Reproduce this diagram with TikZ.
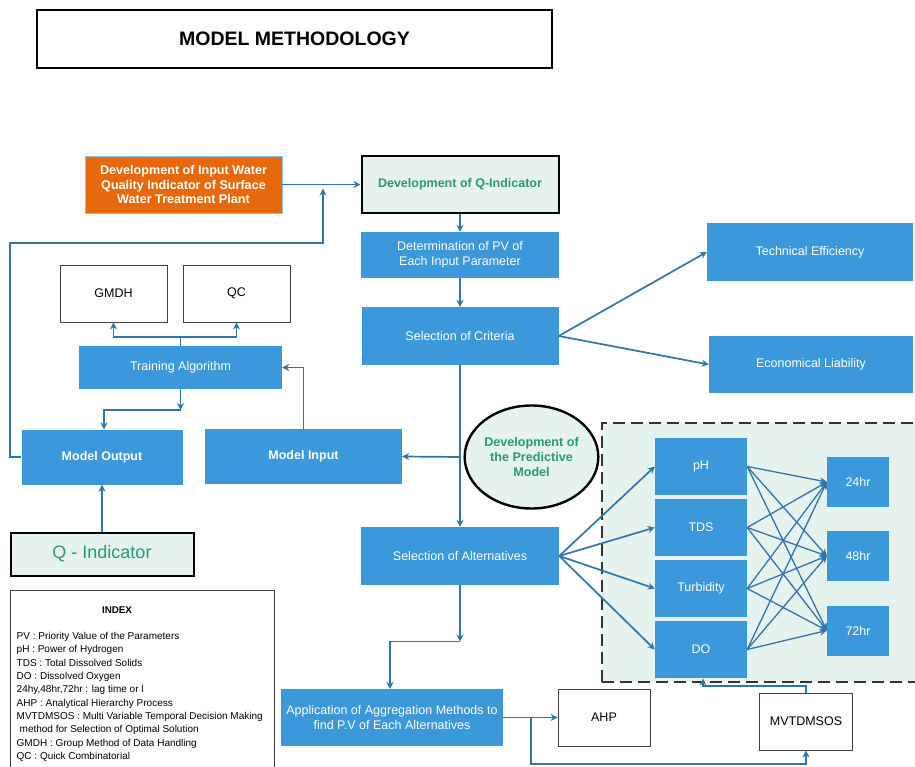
\documentclass[tikz,border=0pt]{standalone}
\usepackage{fontspec}
\setmainfont{Liberation Sans}
\usetikzlibrary{arrows.meta,shapes.geometric,calc}
\definecolor{boxblue}{HTML}{3A98DB}
\definecolor{arrowblue}{HTML}{3274AC}
\definecolor{mint}{HTML}{E6F2EE}
\definecolor{tealtext}{HTML}{2A9878}
\definecolor{orangefill}{HTML}{E8690B}
\begin{document}
\begin{tikzpicture}[x=1pt,y=-1pt,
  bluebox/.style={fill=boxblue, text=white, font=\fontsize{12.5}{15}\selectfont, align=center, inner sep=0pt},
  whitebox/.style={draw=black!75, line width=0.9pt, fill=white, font=\fontsize{12.5}{14}\selectfont, align=center, inner sep=0pt},
  mintbox/.style={draw=black, line width=2pt, fill=mint, text=tealtext, align=center, inner sep=0pt},
  conn/.style={draw=arrowblue, line width=1.7pt, -{Stealth[length=7pt,width=7pt]}},
  plain/.style={draw=arrowblue, line width=1.7pt}]
\useasboundingbox (0,0) rectangle (915,767);
\fill[white] (0,0) rectangle (915,767);

% title
\node[draw=black, line width=1.5pt, minimum width=515pt, minimum height=58pt, inner sep=0pt,
      font=\fontsize{19.5}{22}\selectfont\bfseries] (title) at (294.5,39) {MODEL METHODOLOGY};

% dashed region
\path[fill=mint] (602,423) rectangle (920,682);
\draw[black!80, line width=1.8pt, dash pattern=on 12pt off 6pt] (602,682) -- (602,423) -- (920,423);
\draw[black!80, line width=1.8pt, dash pattern=on 12pt off 6pt] (602,682) -- (920,682);

% top nodes
\node[fill=orangefill, draw=boxblue!60, line width=0.5pt, text=white, align=center, inner sep=0pt,
      minimum width=197pt, minimum height=57pt, font=\fontsize{12.6}{14.6}\selectfont\bfseries]
      (orange) at (183.5,184.5) {Development of Input Water\\Quality Indicator of Surface\\Water Treatment Plant};
\node[mintbox, minimum width=197pt, minimum height=57pt, font=\fontsize{12.5}{14}\selectfont\bfseries]
      (qdev) at (460,184.5) {Development of Q-Indicator};
\node[bluebox, minimum width=198pt, minimum height=46pt] (det) at (460,255) {Determination of PV of\\Each Input Parameter};
\node[bluebox, minimum width=197pt, minimum height=58pt] (crit) at (460,336) {Selection of Criteria};
\node[bluebox, minimum width=206pt, minimum height=58pt] (tech) at (810,252) {Technical Efficiency};
\node[bluebox, minimum width=204pt, minimum height=57pt] (econ) at (811,364.5) {Economical Liability};

% left cluster
\node[whitebox, minimum width=107pt, minimum height=57pt] (gmdh) at (113.5,293.5) {GMDH};
\node[whitebox, minimum width=107pt, minimum height=57pt] (qc) at (236.5,293.5) {QC};
\node[bluebox, minimum width=203pt, minimum height=43pt] (train) at (180.5,367.5) {Training Algorithm};
\node[bluebox, minimum width=161pt, minimum height=55pt, font=\fontsize{12.5}{14}\selectfont\bfseries] (mout) at (102,457) {Model Output};
\node[bluebox, minimum width=197pt, minimum height=55pt, font=\fontsize{12.5}{14}\selectfont\bfseries] (min) at (303.5,456.5) {Model Input};
\node[mintbox, minimum width=183pt, minimum height=43pt, font=\fontsize{18}{20}\selectfont] (qind) at (102,554) {Q - Indicator};

% predictive model
\node[ellipse, draw=black, line width=2.4pt, fill=mint, text=tealtext, align=center, inner sep=0pt,
      minimum width=128pt, minimum height=103pt, font=\fontsize{12.6}{14.8}\selectfont\bfseries]
      (pred) at (531.5,457) {Development of\\the Predictive\\Model};

\node[bluebox, minimum width=198pt, minimum height=58pt] (alt) at (460,556) {Selection of Alternatives};

\node[bluebox, minimum width=92pt, minimum height=57pt] (ph) at (701,466.5) {pH};
\node[bluebox, minimum width=92pt, minimum height=57pt] (tds) at (701,527.5) {TDS};
\node[bluebox, minimum width=92pt, minimum height=57pt] (turb) at (701,588.5) {Turbidity};
\node[bluebox, minimum width=92pt, minimum height=57pt] (do) at (701,649.5) {DO};

\node[bluebox, minimum width=62pt, minimum height=50pt] (h24) at (858,482) {24hr};
\node[bluebox, minimum width=62pt, minimum height=50pt] (h48) at (858,556) {48hr};
\node[bluebox, minimum width=62pt, minimum height=50pt] (h72) at (858,630.5) {72hr};

\node[bluebox, minimum width=222pt, minimum height=57pt] (app) at (392,717.5) {Application of Aggregation Methods to\\find P.V of Each Alternatives};
\node[whitebox, minimum width=92pt, minimum height=57pt] (ahp) at (604,717.5) {AHP};
\node[whitebox, minimum width=93pt, minimum height=57pt] (mvt) at (806,721.5) {MVTDMSOS};

% index
\draw[black!75, line width=0.9pt] (10,770) -- (10,590) -- (274,590) -- (274,770);
\node[font=\fontsize{9.8}{11}\selectfont\bfseries, inner sep=0pt] (indextitle) at (117,610) {INDEX};
\node[anchor=north west, align=left, inner sep=0pt, font=\fontsize{10}{13.35}\selectfont] (indextext) at (16.5,632)
 {PV : Priority Value of the Parameters\\
  pH : Power of Hydrogen\\
  TDS : Total Dissolved Solids\\
  DO : Dissolved Oxygen\\
  24hy,48hr,72hr : lag time or l\\
  AHP : Analytical Hierarchy Process\\
  MVTDMSOS : Multi Variable Temporal Decision Making\\
  \hspace{3pt}method for Selection of Optimal Solution\\
  GMDH : Group Method of Data Handling\\
  QC : Quick Combinatorial};

% connectors
\draw[conn] (orange.east) -- (qdev.west);
\draw[conn] (mout.west) -- (10,457) -- (10,243) -- (323,243) -- (323,188.5);
\draw[conn] (qdev.south) -- (det.north);
\draw[conn] (det.south) -- (crit.north);
\draw[conn] (crit.east) -- (tech.west);
\draw[conn] (crit.east) -- (econ.west);
\draw[conn] (crit.south) -- (alt.north);
\draw[conn] (460,457) -- (min.east);
\draw[conn] (min.north) -- (303.5,367.5) -- (train.east);
\draw[plain] (train.north) -- (180.5,337);
\draw[conn] (180.5,337) -| (gmdh.south);
\draw[conn] (180.5,337) -| (qc.south);
\draw[conn] (train.south) -- (180.5,410);
\draw[conn] (180.5,410) -- (104,410) -- (104,429.5);
\draw[conn] (qind.north) -- (mout.south);

\foreach \t in {ph,tds,turb,do} {
  \draw[conn] (alt.east) -- (\t.west);
  \foreach \h in {h24,h48,h72} {
    \draw[conn, line width=1.3pt] (\t.east) -- (\h.west);
  }
}

\draw[conn] (alt.south) -- (460,641.5);
\draw[conn] (460,641.5) -- (390,641.5) -- (390,689);
\draw[conn] (app.east) -- (ahp.west);
\draw[conn] (531,717.5) -- (531,764) -- (806,764) -- (mvt.south);
\draw[conn] (mvt.north) -- (806,686) -- (703,686) -- (703,678.5);
\end{tikzpicture}
\end{document}
